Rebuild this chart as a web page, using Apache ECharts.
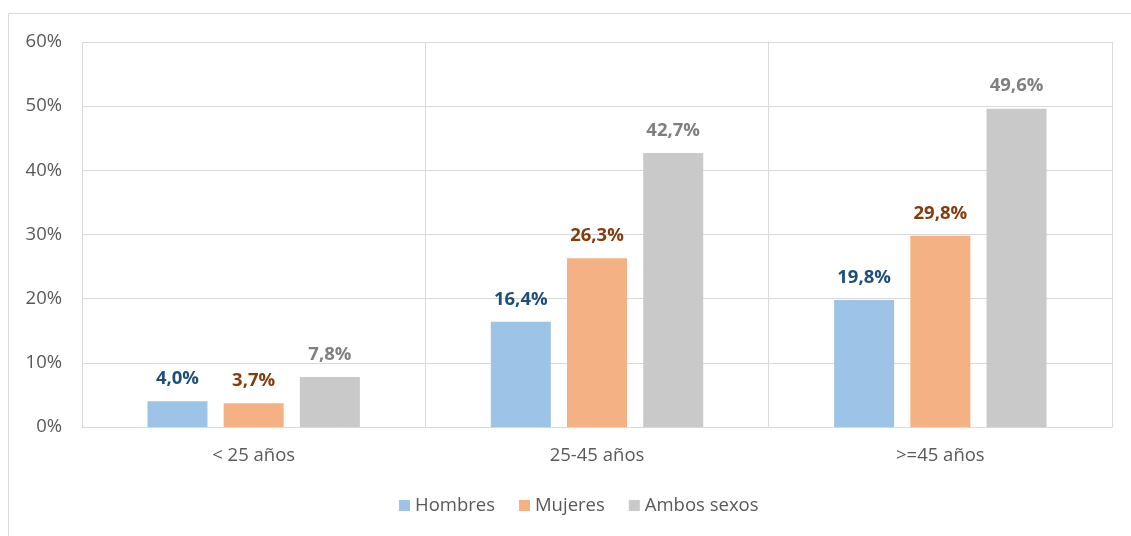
<!DOCTYPE html>
<html><head><meta charset="utf-8">
<script src="https://cdn.jsdelivr.net/npm/echarts@6/dist/echarts.min.js"></script>
<style>html,body{margin:0;padding:0;background:#fff}#c{width:1131px;height:536px}</style>
</head><body><div id="c"></div>
<script>
const categories = ['< 25 años', '25-45 años', '>=45 años'];
const hombres = [4.0, 16.4, 19.8];
const mujeres = [3.7, 26.3, 29.8];
const ambos = [7.8, 42.7, 49.6];
const yTicks = [0, 10, 20, 30, 40, 50, 60];

const chart = echarts.init(document.getElementById('c'));
const fmt = p => p.value.toFixed(1).replace('.', ',') + '%';
function s(name, data, color, labelColor) {
  return {
    name, type: 'bar', data, barWidth: 60, barGap: '27%',
    itemStyle: { color },
    label: { show: true, position: 'top', distance: 13, formatter: fmt, color: labelColor,
      fontFamily: 'Open Sans', fontWeight: 'bold', fontSize: 18.5 }
  };
}
chart.setOption({
  animation: false,
  graphic: [{ type: 'rect', shape: { x: 8.5, y: 13.5, width: 1140, height: 540 },
    style: { fill: 'none', stroke: '#D9D9D9', lineWidth: 1 }, silent: true, z: -10 }],
  grid: { left: 82, right: 19, top: 42, bottom: 109 },
  legend: {
    top: 491, left: 394, itemWidth: 11, itemHeight: 11, itemGap: 24,
    icon: 'rect',
    textStyle: { fontFamily: 'Open Sans', fontSize: 18.5, color: '#595959' },
    data: ['Hombres', 'Mujeres', 'Ambos sexos']
  },
  xAxis: {
    type: 'category', data: categories,
    axisLine: { lineStyle: { color: '#D9D9D9' } },
    axisTick: { show: false },
    splitLine: { show: true, lineStyle: { color: '#D9D9D9' } },
    axisLabel: { fontFamily: 'Open Sans', fontSize: 18.5, color: '#595959', margin: 19 }
  },
  yAxis: {
    type: 'value', min: yTicks[0], max: yTicks[yTicks.length - 1], interval: 10,
    axisLine: { show: false }, axisTick: { show: false },
    splitLine: { lineStyle: { color: '#D9D9D9' } },
    axisLabel: { formatter: '{value}%', fontFamily: 'Open Sans', fontSize: 18.5, color: '#595959', margin: 20 }
  },
  series: [
    s('Hombres', hombres, '#9DC3E6', '#1F4E79'),
    s('Mujeres', mujeres, '#F4B183', '#843C0C'),
    s('Ambos sexos', ambos, '#C9C9C9', '#7F7F7F')
  ]
});
</script></body></html>
